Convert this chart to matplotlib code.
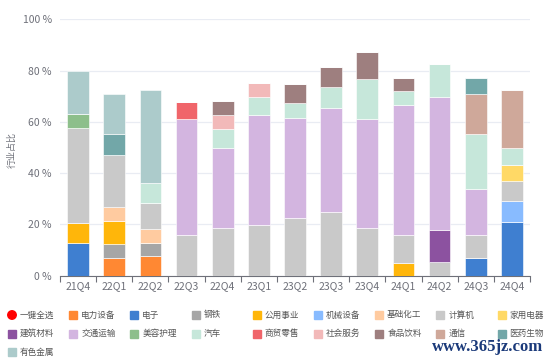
import numpy as np
import matplotlib.pyplot as plt
from matplotlib.patches import Rectangle, Ellipse

plt.rcParams['font.family'] = ['Noto Sans CJK SC', 'DejaVu Sans']

quarters = ['21Q4', '22Q1', '22Q2', '22Q3', '22Q4', '23Q1', '23Q2',
            '23Q3', '23Q4', '24Q1', '24Q2', '24Q3', '24Q4']

industries = ['电力设备', '电子', '钢铁', '公用事业', '机械设备', '基础化工',
              '计算机', '家用电器', '建筑材料', '交通运输', '美容护理', '汽车',
              '商贸零售', '社会服务', '食品饮料', '通信', '医药生物', '有色金属']

colors = ['#FF8833', '#3F7FD0', '#A6A6A6', '#FFB60A', '#88BBFF', '#FFCBA0',
          '#C9C9C9', '#FFD966', '#8C52A0', '#D3B5E0', '#8DBF8B', '#C6E7DA',
          '#F0656A', '#F2B9B9', '#9E7F7F', '#CFA89A', '#72A7A8', '#ACCBCB']

# 行业占比 (%), 按季度
share = {
    '电力设备': [0, 6.8, 7.7, 0, 0, 0, 0, 0, 0, 0, 0, 0, 0],
    '电子':     [12.7, 0, 0, 0, 0, 0, 0, 0, 0, 0, 0, 6.8, 20.9],
    '钢铁':     [0, 5.7, 5.0, 0, 0, 0, 0, 0, 0, 0, 0, 0, 0],
    '公用事业': [7.7, 8.8, 0, 0, 0, 0, 0, 0, 0, 4.8, 0, 0, 0],
    '机械设备': [0, 0, 0, 0, 0, 0, 0, 0, 0, 0, 0, 0, 8.2],
    '基础化工': [0, 5.5, 5.5, 0, 0, 0, 0, 0, 0, 0, 0, 0, 0],
    '计算机':   [37.3, 20.4, 10.3, 15.7, 18.5, 19.8, 22.5, 25.0, 18.7, 11.1, 5.5, 8.9, 7.7],
    '家用电器': [0, 0, 0, 0, 0, 0, 0, 0, 0, 0, 0, 0, 6.3],
    '建筑材料': [0, 0, 0, 0, 0, 0, 0, 0, 0, 0, 12.4, 0, 0],
    '交通运输': [0, 0, 0, 45.4, 31.3, 42.9, 39.1, 40.5, 42.3, 50.6, 51.8, 18.1, 0],
    '美容护理': [5.2, 0, 0, 0, 0, 0, 0, 0, 0, 0, 0, 0, 0],
    '汽车':     [0, 0, 7.5, 0, 7.4, 7.0, 5.8, 8.1, 15.7, 5.7, 12.7, 21.6, 6.7],
    '商贸零售': [0, 0, 0, 6.6, 0, 0, 0, 0, 0, 0, 0, 0, 0],
    '社会服务': [0, 0, 0, 0, 5.4, 5.3, 0, 0, 0, 0, 0, 0, 0],
    '食品饮料': [0, 0, 0, 0, 5.5, 0, 7.5, 7.7, 10.4, 5.0, 0, 0, 0],
    '通信':     [0, 0, 0, 0, 0, 0, 0, 0, 0, 0, 0, 15.5, 22.5],
    '医药生物': [0, 8.1, 0, 0, 0, 0, 0, 0, 0, 0, 0, 6.3, 0],
    '有色金属': [16.9, 15.6, 36.3, 0, 0, 0, 0, 0, 0, 0, 0, 0, 0],
}

W, H = 550, 362
fig = plt.figure(figsize=(5.5, 3.62), dpi=100)
ax = fig.add_axes([60 / W, 1 - 275.7 / H, 470 / W, 256.4 / H])

x = np.arange(len(quarters))
bottom = np.zeros(len(quarters))
for name, c in zip(industries, colors):
    v = np.array(share[name], dtype=float)
    ax.bar(x, v, 0.6, bottom=bottom, color=c, edgecolor='white', linewidth=0.4, zorder=3)
    bottom += v

ax.set_xlim(-0.5, len(quarters) - 0.5)
ax.set_ylim(0, 100)
ax.set_yticks([0, 20, 40, 60, 80, 100])
ax.set_yticklabels([f'{v} %' for v in [0, 20, 40, 60, 80, 100]])
ax.grid(axis='y', color='#E9ECF3', linewidth=0.9, zorder=0)
ax.set_xticks(x)
ax.set_xticklabels(quarters)
ax.set_xticks(np.arange(-0.5, len(quarters)), minor=True)
ax.tick_params(axis='x', which='major', length=0, labelsize=7.5, labelcolor='#6E7079', pad=4)
ax.tick_params(axis='x', which='minor', length=4, color='#6E7079', width=0.8)
ax.tick_params(axis='y', length=0, labelsize=7.5, labelcolor='#6E7079', pad=6)
for s in ['top', 'right', 'left']:
    ax.spines[s].set_visible(False)
ax.spines['bottom'].set_color('#6E7079')
ax.spines['bottom'].set_linewidth(0.8)

fig.text(12 / W, 1 - 150 / H, '行业占比', rotation=90, ha='center', va='center',
         fontsize=6.5, color='#6E7079')

# legend
labels = ['一键全选'] + industries
for i, name in enumerate(labels):
    row, col = divmod(i, 9)
    cx = 12 + col * 61.2
    cy = 315 + row * 18.5
    if i == 0:
        fig.patches.append(Ellipse((cx / W, 1 - cy / H), 8.5 / W, 8.5 / H,
                                   color='#FF0000', transform=fig.transFigure))
    else:
        fig.patches.append(Rectangle(((cx - 4) / W, 1 - (cy + 4) / H), 8 / W, 8 / H,
                                     color=colors[i - 1], transform=fig.transFigure))
    fig.text((cx + 8) / W, 1 - cy / H, name, ha='left', va='center',
             fontsize=6.2, color='#555555')

fig.text(543 / W, 1 - 347 / H, 'www.365jz.com', ha='right', va='center',
         fontsize=12, fontweight='bold', family='Liberation Serif', color='#1B3A7A')

fig.savefig('out.png', dpi=100)
